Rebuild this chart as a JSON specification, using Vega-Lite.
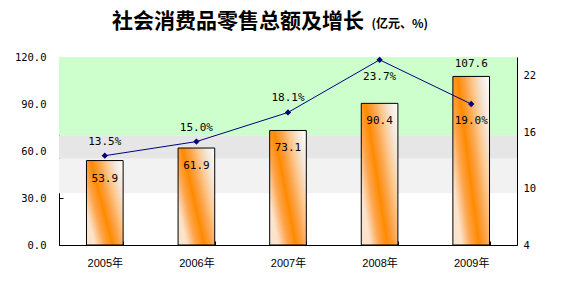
{
  "$schema": "https://vega.github.io/schema/vega-lite/v6.json",
  "width": 458,
  "height": 188,
  "autosize": {"type": "none"},
  "padding": {"left": 59, "top": 57, "right": 61, "bottom": 51},
  "background": "white",
  "title": {
    "text": "社会消费品零售总额及增长",
    "anchor": "start",
    "frame": "group",
    "dx": 53,
    "offset": -15,
    "fontSize": 21,
    "font": "Noto Sans CJK SC",
    "fontWeight": "bold",
    "color": "#000000"
  },
  "datasets": {
    "sales": [
      {"year": "2005年", "sales": 53.9, "growth": 13.5},
      {"year": "2006年", "sales": 61.9, "growth": 15.0},
      {"year": "2007年", "sales": 73.1, "growth": 18.1},
      {"year": "2008年", "sales": 90.4, "growth": 23.7},
      {"year": "2009年", "sales": 107.6, "growth": 19.0}
    ],
    "bands": [
      {"band": "a", "lo": 70, "hi": 120},
      {"band": "b", "lo": 55, "hi": 70},
      {"band": "c", "lo": 33, "hi": 55}
    ]
  },
  "data": {"name": "sales"},
  "config": {
    "view": {"stroke": null},
    "axis": {
      "grid": false,
      "domainColor": "#000000",
      "tickColor": "#000000",
      "labelColor": "#000000",
      "labelFont": "DejaVu Sans Mono",
      "labelFontSize": 10.5,
      "tickSize": -4
    },
    "axisLeft": {
      "titleAngle": 0,
      "titleX": 312,
      "titleY": -34,
      "titleAlign": "left",
      "titleBaseline": "middle",
      "titleFont": "Noto Sans CJK SC",
      "titleFontSize": 12,
      "titleFontWeight": "bold",
      "titleColor": "#000000",
      "labelPadding": 17
    },
    "axisRight": {"labelPadding": 10},
    "axisBottom": {
      "labelFont": "Liberation Sans, Noto Sans CJK SC",
      "labelFontSize": 11,
      "labelPadding": 16
    }
  },
  "layer": [
    {
      "layer": [
        {
          "data": {"name": "bands"},
          "mark": {"type": "rect"},
          "encoding": {
            "y": {"field": "lo", "type": "quantitative", "title": "(亿元、%)",
                  "scale": {"domain": [0, 120]},
                  "axis": {"values": [0, 30, 60, 90, 120], "format": ".1f"}},
            "y2": {"field": "hi"},
            "color": {"field": "band", "type": "nominal", "legend": null,
                      "scale": {"domain": ["a", "b", "c"], "range": ["#ccffcc", "#e6e6e6", "#f2f2f2"]}}
          }
        },
        {
          "mark": {
            "type": "bar",
            "stroke": "#000000",
            "strokeWidth": 1,
            "fill": {
              "gradient": "linear",
              "x1": 0, "y1": 0.6, "x2": 1, "y2": 0,
              "stops": [
                {"offset": 0, "color": "#fbe3cc"},
                {"offset": 0.18, "color": "#fda650"},
                {"offset": 0.35, "color": "#ff8a00"},
                {"offset": 0.5, "color": "#fca44a"},
                {"offset": 0.65, "color": "#fcc88e"},
                {"offset": 0.8, "color": "#f4e4d4"},
                {"offset": 1, "color": "#ffffff"}
              ]
            }
          },
          "encoding": {
            "x": {"field": "year", "type": "ordinal", "sort": null,
                  "scale": {"paddingInner": 0.6, "paddingOuter": 0.3},
                  "axis": {"title": null, "labelAngle": 0, "tickBand": "extent"}},
            "y": {"field": "sales", "type": "quantitative", "title": "(亿元、%)"}
          }
        },
        {
          "transform": [{"filter": "datum.sales < 100"}],
          "mark": {"type": "text", "dy": 18, "font": "DejaVu Sans Mono", "fontSize": 11, "color": "#000000"},
          "encoding": {
            "x": {"field": "year", "type": "ordinal", "sort": null},
            "y": {"field": "sales", "type": "quantitative", "title": "(亿元、%)"},
            "text": {"field": "sales", "format": ".1f"}
          }
        },
        {
          "transform": [{"filter": "datum.sales >= 100"}],
          "mark": {"type": "text", "dy": -12, "font": "DejaVu Sans Mono", "fontSize": 11, "color": "#000000"},
          "encoding": {
            "x": {"field": "year", "type": "ordinal", "sort": null},
            "y": {"field": "sales", "type": "quantitative", "title": "(亿元、%)"},
            "text": {"field": "sales", "format": ".1f"}
          }
        }
      ]
    },
    {
      "transform": [{"calculate": "format(datum.growth, '.1f') + '%'", "as": "glabel"}],
      "encoding": {
        "x": {"field": "year", "type": "ordinal", "sort": null},
        "y": {"field": "growth", "type": "quantitative",
              "scale": {"domain": [4, 24]},
              "axis": {"orient": "right", "title": null, "values": [4, 10, 16, 22]}}
      },
      "layer": [
        {"mark": {"type": "line", "color": "#000080", "strokeWidth": 1}},
        {"mark": {"type": "point", "shape": "diamond", "filled": true, "size": 40, "color": "#000080", "opacity": 1}},
        {
          "transform": [{"filter": "datum.growth < 19"}],
          "mark": {"type": "text", "dy": -14, "font": "DejaVu Sans Mono", "fontSize": 11, "color": "#000000"},
          "encoding": {"text": {"field": "glabel"}}
        },
        {
          "transform": [{"filter": "datum.growth >= 19"}],
          "mark": {"type": "text", "dy": 17, "font": "DejaVu Sans Mono", "fontSize": 11, "color": "#000000"},
          "encoding": {"text": {"field": "glabel"}}
        }
      ]
    }
  ],
  "resolve": {"scale": {"y": "independent"}}
}
